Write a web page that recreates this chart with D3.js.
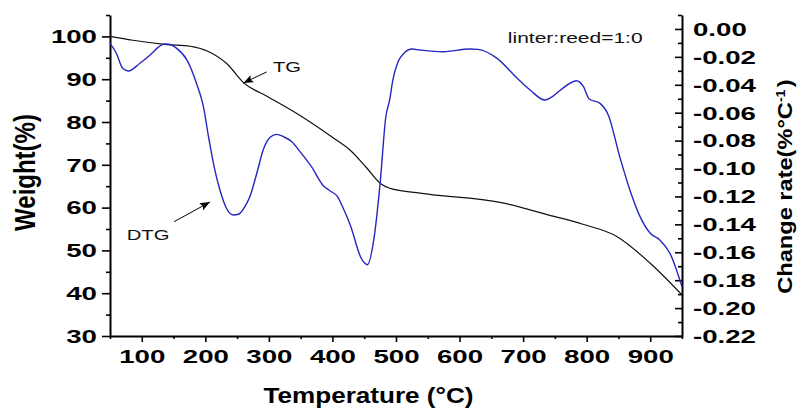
<!DOCTYPE html>
<html>
<head>
<meta charset="utf-8">
<script src="https://cdn.jsdelivr.net/npm/d3@7.9.0/dist/d3.min.js"></script>
<style>
  body { margin: 0; background: #fff; }
  svg { display: block; font-family: "Liberation Sans", Arial, sans-serif; }
</style>
</head>
<body>
<script>
// TG curve (weight %, left axis)
const tgTemp = [50, 86, 140, 176, 203, 234, 260, 297, 349, 401, 428, 452, 475, 495, 538, 553, 668, 742, 794, 848, 900, 950];
const tgWeight = [100, 99.1, 98.1, 97.7, 96.6, 93.6, 89.2, 86.0, 81.5, 76.3, 73.4, 69.6, 65.7, 64.3, 63.4, 63.1, 61.1, 58.2, 56.1, 53.2, 47.0, 39.6];

// DTG curve (change rate, right axis)
const dtgTemp = [50, 60, 70, 79, 97, 113, 134, 139, 155, 171, 186, 197, 205, 215, 223, 234, 244, 252, 262, 270,
  281, 291, 302, 312, 323, 336, 349, 367, 386, 396, 408, 417, 428, 446, 455, 465, 475, 484, 490, 495,
  503, 513, 525, 538, 574, 616, 629, 658, 692, 711, 734, 744, 758, 784, 795, 804, 821, 834, 852, 868,
  884, 900, 915, 931, 950];
const dtgRate = [-0.0103, -0.0174, -0.0282, -0.0301, -0.0246, -0.0187, -0.0110, -0.0108, -0.0139, -0.0222,
  -0.0389, -0.0557, -0.0772, -0.1011, -0.1154, -0.1292, -0.1333, -0.1328, -0.1274, -0.1202,
  -0.1034, -0.0867, -0.0776, -0.0755, -0.0772, -0.0808, -0.0879, -0.0987, -0.1125, -0.1159,
  -0.1202, -0.1285, -0.1405, -0.1650, -0.1689, -0.1512, -0.1106, -0.0629, -0.0509, -0.0366,
  -0.0237, -0.0172, -0.0144, -0.0151, -0.0163, -0.0144, -0.0146, -0.0207, -0.0359, -0.0437,
  -0.0509, -0.0491, -0.0441, -0.0371, -0.0414, -0.0502, -0.0533, -0.0616, -0.0915, -0.1154,
  -0.1345, -0.1464, -0.1512, -0.1607, -0.1847];

// ticks
const xTicks = [100, 200, 300, 400, 500, 600, 700, 800, 900];
const xMinor = [50, 150, 250, 350, 450, 550, 650, 750, 850, 950];
const leftTicks = [30, 40, 50, 60, 70, 80, 90, 100];
const leftMinor = [35, 45, 55, 65, 75, 85, 95, 105];
const rightTicks = [-0.22, -0.20, -0.18, -0.16, -0.14, -0.12, -0.10, -0.08, -0.06, -0.04, -0.02, 0.00];
const rightMinor = [-0.21, -0.19, -0.17, -0.15, -0.13, -0.11, -0.09, -0.07, -0.05, -0.03, -0.01, 0.01];

const W = 798, H = 408;
const svg = d3.select('body').append('svg').attr('width', W).attr('height', H);

let x = d3.scaleLinear().domain([50, 950]).range([110, 682]);
let yL = d3.scaleLinear().domain([30, 105]).range([336, 15]);
let yR = d3.scaleLinear().domain([-0.22, 0.01]).range([336, 15]);

const sx = 1.58; // tick labels look stretched sideways

function styleAxis(g) {
  g.select('.domain').attr('stroke', '#000').attr('stroke-width', 2);
  g.selectAll('.tick line').attr('stroke', '#000').attr('stroke-width', 1.6);
  g.selectAll('text').attr('fill', '#000')
    .attr('font-size', 17.5).attr('font-weight', 'bold')
    .attr('font-family', '"Liberation Sans", Arial, sans-serif');
}

// bottom axis
let gx = svg.append('g').attr('transform', 'translate(0,336)')
  .call(d3.axisBottom(x).tickValues(xTicks).tickSize(6).tickSizeOuter(0).tickFormat(d3.format('d')));
styleAxis(gx);
gx.selectAll('text').attr('y', 27).attr('dy', 0).attr('transform', `scale(${sx},1)`);
let gxm = svg.append('g').attr('transform', 'translate(0,336)')
  .call(d3.axisBottom(x).tickValues(xMinor).tickSize(3).tickFormat(''));
gxm.select('.domain').remove();
gxm.selectAll('line').attr('stroke', '#000').attr('stroke-width', 1.6);

// left axis
let gl = svg.append('g').attr('transform', 'translate(110,0)')
  .call(d3.axisLeft(yL).tickValues(leftTicks).tickSize(8).tickSizeOuter(0).tickFormat(d3.format('d')));
styleAxis(gl);
gl.selectAll('text').attr('x', -13 / sx).attr('dy', '0.36em').attr('transform', `scale(${sx},1)`);
let glm = svg.append('g').attr('transform', 'translate(110,0)')
  .call(d3.axisLeft(yL).tickValues(leftMinor).tickSize(4).tickFormat(''));
glm.select('.domain').remove();
glm.selectAll('line').attr('stroke', '#000').attr('stroke-width', 1.6);

// right axis (ticks point inward)
let gr = svg.append('g').attr('transform', 'translate(682,0)')
  .call(d3.axisRight(yR).tickValues(rightTicks).tickSize(-7).tickSizeOuter(0).tickFormat(d => d.toFixed(2)));
styleAxis(gr);
gr.selectAll('text').attr('x', 11 / sx).attr('dy', '0.36em').attr('text-anchor', 'start')
  .attr('transform', `scale(${sx},1)`);
let grm = svg.append('g').attr('transform', 'translate(682,0)')
  .call(d3.axisRight(yR).tickValues(rightMinor).tickSize(-4).tickFormat(''));
grm.select('.domain').remove();
grm.selectAll('line').attr('stroke', '#000').attr('stroke-width', 1.6);

// curves
let tgLine = d3.line().x(d => x(d[0])).y(d => yL(d[1])).curve(d3.curveMonotoneX);
let dtgLine = d3.line().x(d => x(d[0])).y(d => yR(d[1])).curve(d3.curveMonotoneX);

svg.append('path')
  .attr('d', tgLine(d3.zip(tgTemp, tgWeight)))
  .attr('fill', 'none').attr('stroke', '#111').attr('stroke-width', 1.2);
svg.append('path')
  .attr('d', dtgLine(d3.zip(dtgTemp, dtgRate)))
  .attr('fill', 'none').attr('stroke', '#2626c0').attr('stroke-width', 1.4);

// axis titles
svg.append('text')
  .attr('transform', 'translate(368.5,403) scale(1.16,1)')
  .attr('text-anchor', 'middle').attr('font-size', 22.5).attr('font-weight', 'bold')
  .text('Temperature (°C)');

svg.append('text')
  .attr('transform', 'translate(35,172.5) scale(1.25,1) rotate(-90)')
  .attr('text-anchor', 'middle').attr('font-size', 24).attr('font-weight', 'bold')
  .text('Weight(%)');

// right title: glyphs look tall and narrow, so stretch it along its length
let rt = svg.append('text')
  .attr('transform', 'translate(792,186.5) scale(1,1.18) rotate(-90)')
  .attr('text-anchor', 'middle').attr('font-size', 20).attr('font-weight', 'bold');
rt.append('tspan').text('Change rate(%°C');
rt.append('tspan').attr('font-size', 12).attr('dy', -7).text('-1');
rt.append('tspan').attr('dy', 7).attr('dx', 2).text(')');

// annotations
svg.append('defs').append('marker')
  .attr('id', 'head').attr('markerUnits', 'userSpaceOnUse')
  .attr('markerWidth', 11).attr('markerHeight', 8)
  .attr('refX', 10).attr('refY', 4).attr('orient', 'auto')
  .append('path').attr('d', 'M0,0 L10,4 L0,8 L2,4 Z').attr('fill', '#000');

const arrows = [
  { from: [296.5, 91.7], to: [259.7, 89.1] },
  { from: [150.7, 56.7], to: [207.3, 61.3] }
];
arrows.forEach(a => {
  svg.append('line')
    .attr('x1', x(a.from[0])).attr('y1', yL(a.from[1]))
    .attr('x2', x(a.to[0])).attr('y2', yL(a.to[1]))
    .attr('stroke', '#000').attr('stroke-width', 1)
    .attr('marker-end', 'url(#head)');
});

const notes = [
  { t: 'TG', at: [306.5, 91.6], s: 1.35 },
  { t: 'DTG', at: [76.3, 52.4], s: 1.35 },
  { t: 'linter:reed=1:0', at: [676, 98.4], s: 1.4 }
];
notes.forEach(n => {
  svg.append('text')
    .attr('transform', `translate(${x(n.at[0])},${yL(n.at[1])}) scale(${n.s},1)`)
    .attr('font-size', 15).attr('fill', '#111')
    .text(n.t);
});
</script>
</body>
</html>
